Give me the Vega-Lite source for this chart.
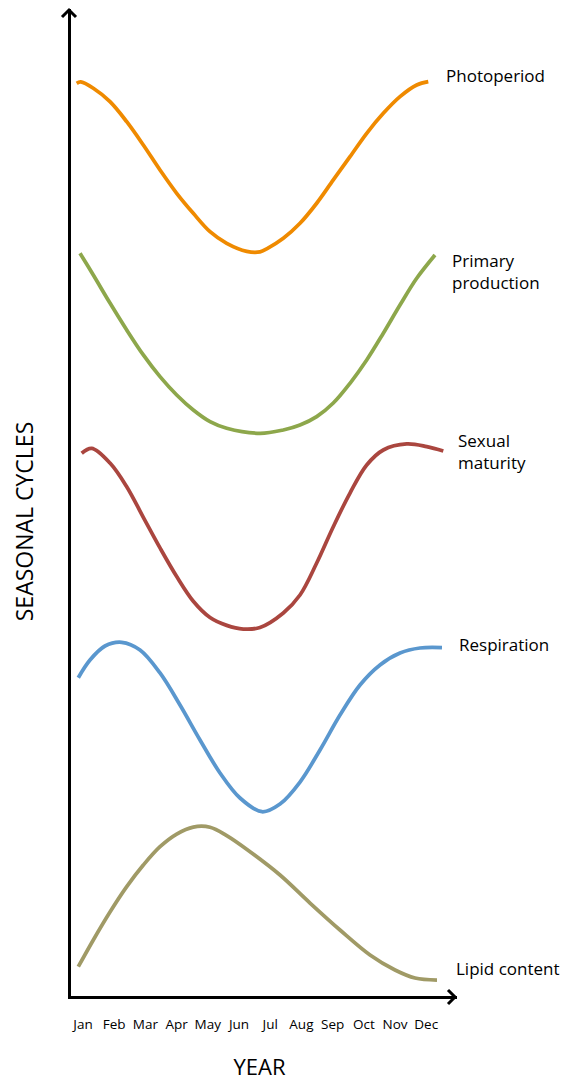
{
  "$schema": "https://vega.github.io/schema/vega-lite/v6.json",
  "width": 386,
  "height": 987,
  "autosize": "none",
  "padding": {"left": 69, "top": 10, "right": 109, "bottom": 84},
  "background": "white",
  "config": {"view": {"stroke": null}},
  "datasets": {
    "curves": [
      {"series": "Photoperiod", "m": 0.814, "v": 92.57},
      {"series": "Photoperiod", "m": 0.942, "v": 92.71},
      {"series": "Photoperiod", "m": 1.346, "v": 92.07},
      {"series": "Photoperiod", "m": 1.881, "v": 90.71},
      {"series": "Photoperiod", "m": 2.417, "v": 88.68},
      {"series": "Photoperiod", "m": 2.949, "v": 86.32},
      {"series": "Photoperiod", "m": 3.484, "v": 83.79},
      {"series": "Photoperiod", "m": 4.019, "v": 81.43},
      {"series": "Photoperiod", "m": 4.551, "v": 79.40},
      {"series": "Photoperiod", "m": 5.087, "v": 77.54},
      {"series": "Photoperiod", "m": 5.622, "v": 76.36},
      {"series": "Photoperiod", "m": 6.263, "v": 75.55},
      {"series": "Photoperiod", "m": 6.689, "v": 75.50},
      {"series": "Photoperiod", "m": 6.904, "v": 75.80},
      {"series": "Photoperiod", "m": 7.436, "v": 76.87},
      {"series": "Photoperiod", "m": 7.971, "v": 78.39},
      {"series": "Photoperiod", "m": 8.506, "v": 80.42},
      {"series": "Photoperiod", "m": 9.038, "v": 82.78},
      {"series": "Photoperiod", "m": 9.574, "v": 85.14},
      {"series": "Photoperiod", "m": 10.109, "v": 87.51},
      {"series": "Photoperiod", "m": 10.641, "v": 89.53},
      {"series": "Photoperiod", "m": 11.176, "v": 91.22},
      {"series": "Photoperiod", "m": 11.712, "v": 92.40},
      {"series": "Photoperiod", "m": 12.083, "v": 92.74},

      {"series": "Primary production", "m": 0.920, "v": 75.35},
      {"series": "Primary production", "m": 1.346, "v": 73.15},
      {"series": "Primary production", "m": 1.881, "v": 70.31},
      {"series": "Primary production", "m": 2.417, "v": 67.58},
      {"series": "Primary production", "m": 2.949, "v": 65.05},
      {"series": "Primary production", "m": 3.484, "v": 62.85},
      {"series": "Primary production", "m": 4.019, "v": 60.99},
      {"series": "Primary production", "m": 4.551, "v": 59.47},
      {"series": "Primary production", "m": 5.087, "v": 58.29},
      {"series": "Primary production", "m": 5.622, "v": 57.62},
      {"series": "Primary production", "m": 6.689, "v": 57.11},
      {"series": "Primary production", "m": 7.436, "v": 57.45},
      {"series": "Primary production", "m": 7.971, "v": 57.95},
      {"series": "Primary production", "m": 8.506, "v": 58.80},
      {"series": "Primary production", "m": 9.038, "v": 60.18},
      {"series": "Primary production", "m": 9.574, "v": 62.18},
      {"series": "Primary production", "m": 10.109, "v": 64.54},
      {"series": "Primary production", "m": 10.641, "v": 67.25},
      {"series": "Primary production", "m": 11.176, "v": 70.11},
      {"series": "Primary production", "m": 11.712, "v": 72.82},
      {"series": "Primary production", "m": 12.298, "v": 75.18},

      {"series": "Sexual maturity", "m": 0.974, "v": 55.09},
      {"series": "Sexual maturity", "m": 1.295, "v": 55.59},
      {"series": "Sexual maturity", "m": 1.881, "v": 54.10},
      {"series": "Sexual maturity", "m": 2.417, "v": 51.70},
      {"series": "Sexual maturity", "m": 2.949, "v": 48.60},
      {"series": "Sexual maturity", "m": 3.484, "v": 45.50},
      {"series": "Sexual maturity", "m": 4.019, "v": 42.60},
      {"series": "Sexual maturity", "m": 4.551, "v": 40.10},
      {"series": "Sexual maturity", "m": 5.087, "v": 38.45},
      {"series": "Sexual maturity", "m": 5.622, "v": 37.65},
      {"series": "Sexual maturity", "m": 6.154, "v": 37.28},
      {"series": "Sexual maturity", "m": 6.689, "v": 37.44},
      {"series": "Sexual maturity", "m": 7.436, "v": 38.91},
      {"series": "Sexual maturity", "m": 7.971, "v": 40.73},
      {"series": "Sexual maturity", "m": 8.506, "v": 43.97},
      {"series": "Sexual maturity", "m": 9.038, "v": 47.65},
      {"series": "Sexual maturity", "m": 9.574, "v": 51.06},
      {"series": "Sexual maturity", "m": 10.109, "v": 53.90},
      {"series": "Sexual maturity", "m": 10.641, "v": 55.42},
      {"series": "Sexual maturity", "m": 11.391, "v": 56.03},
      {"series": "Sexual maturity", "m": 12.032, "v": 55.76},
      {"series": "Sexual maturity", "m": 12.564, "v": 55.32},

      {"series": "Respiration", "m": 0.865, "v": 32.35},
      {"series": "Respiration", "m": 1.240, "v": 34.14},
      {"series": "Respiration", "m": 1.721, "v": 35.56},
      {"series": "Respiration", "m": 2.256, "v": 35.94},
      {"series": "Respiration", "m": 2.843, "v": 35.16},
      {"series": "Respiration", "m": 3.484, "v": 32.83},
      {"series": "Respiration", "m": 4.125, "v": 29.58},
      {"series": "Respiration", "m": 4.766, "v": 26.04},
      {"series": "Respiration", "m": 5.407, "v": 22.70},
      {"series": "Respiration", "m": 6.048, "v": 20.16},
      {"series": "Respiration", "m": 6.753, "v": 18.77},
      {"series": "Respiration", "m": 7.330, "v": 19.55},
      {"series": "Respiration", "m": 7.971, "v": 21.78},
      {"series": "Respiration", "m": 8.612, "v": 25.03},
      {"series": "Respiration", "m": 9.253, "v": 28.57},
      {"series": "Respiration", "m": 9.894, "v": 31.61},
      {"series": "Respiration", "m": 10.535, "v": 33.64},
      {"series": "Respiration", "m": 11.176, "v": 34.85},
      {"series": "Respiration", "m": 11.817, "v": 35.36},
      {"series": "Respiration", "m": 12.522, "v": 35.40},

      {"series": "Lipid content", "m": 0.865, "v": 3.07},
      {"series": "Lipid content", "m": 1.346, "v": 5.78},
      {"series": "Lipid content", "m": 1.881, "v": 8.61},
      {"series": "Lipid content", "m": 2.417, "v": 11.18},
      {"series": "Lipid content", "m": 2.949, "v": 13.37},
      {"series": "Lipid content", "m": 3.484, "v": 15.23},
      {"series": "Lipid content", "m": 4.019, "v": 16.51},
      {"series": "Lipid content", "m": 4.551, "v": 17.22},
      {"series": "Lipid content", "m": 5.087, "v": 17.20},
      {"series": "Lipid content", "m": 5.622, "v": 16.35},
      {"series": "Lipid content", "m": 6.369, "v": 14.72},
      {"series": "Lipid content", "m": 7.330, "v": 12.36},
      {"series": "Lipid content", "m": 8.292, "v": 9.52},
      {"series": "Lipid content", "m": 9.253, "v": 6.79},
      {"series": "Lipid content", "m": 10.215, "v": 4.26},
      {"series": "Lipid content", "m": 11.016, "v": 2.74},
      {"series": "Lipid content", "m": 11.657, "v": 1.93},
      {"series": "Lipid content", "m": 12.362, "v": 1.72}
    ],
    "labels": [
      {"label": "Photoperiod", "m": 12.651, "v": 93.21},
      {"label": "Primary|production", "m": 12.843, "v": 74.47},
      {"label": "Sexual|maturity", "m": 13.035, "v": 56.23},
      {"label": "Respiration", "m": 13.067, "v": 35.56},
      {"label": "Lipid content", "m": 12.971, "v": 2.74}
    ],
    "xend": [{"m": 12.939, "v": 0}],
    "yend": [{"m": 0.567, "v": 100}]
  },
  "encoding": {
    "x": {
      "field": "m",
      "type": "quantitative",
      "scale": {"domain": [0.567, 12.939], "nice": false, "zero": false},
      "axis": {
        "values": [1, 2, 3, 4, 5, 6, 7, 8, 9, 10, 11, 12],
        "labelExpr": "['Jan','Feb','Mar','Apr','May','Jun','Jul','Aug','Sep','Oct','Nov','Dec'][datum.value-1]",
        "ticks": false,
        "tickSize": 0,
        "grid": false,
        "domainColor": "black",
        "domainWidth": 3,
        "domainCap": "square",
        "labelFont": "Open Sans",
        "labelFontSize": 13.5,
        "labelColor": "black",
        "labelBaseline": "middle",
        "labelPadding": 27,
        "labelOverlap": false,
        "labelFlush": false,
        "title": "YEAR",
        "titleFont": "Open Sans",
        "titleFontSize": 22,
        "titleFontWeight": "normal",
        "titleColor": "black",
        "titleX": 190,
        "titleY": 70,
        "titleAlign": "center",
        "titleBaseline": "middle"
      }
    },
    "y": {
      "field": "v",
      "type": "quantitative",
      "scale": {"domain": [0, 100], "nice": false, "zero": false},
      "axis": {
        "labels": false,
        "ticks": false,
        "grid": false,
        "domainColor": "black",
        "domainWidth": 3,
        "domainCap": "square",
        "title": "SEASONAL CYCLES",
        "titleFont": "Open Sans",
        "titleFontSize": 23,
        "titleFontWeight": "normal",
        "titleColor": "black",
        "titleAngle": -90,
        "titleX": -44,
        "titleY": 511,
        "titleAlign": "center",
        "titleBaseline": "middle"
      }
    }
  },
  "layer": [
    {
      "data": {"name": "curves"},
      "mark": {"type": "line", "interpolate": "catmull-rom", "strokeWidth": 3.75, "strokeCap": "butt"},
      "encoding": {
        "color": {
          "field": "series",
          "type": "nominal",
          "scale": {
            "domain": ["Photoperiod", "Primary production", "Sexual maturity", "Respiration", "Lipid content"],
            "range": ["#EF8A00", "#8DA74B", "#AA463F", "#5A97CE", "#A09A66"]
          },
          "legend": null
        }
      }
    },
    {
      "data": {"name": "labels"},
      "mark": {"type": "text", "align": "left", "baseline": "middle", "font": "Open Sans", "fontSize": 17, "color": "black", "lineBreak": "|", "lineHeight": 22},
      "encoding": {"text": {"field": "label", "type": "nominal"}}
    },
    {
      "data": {"name": "xend"},
      "mark": {"type": "point", "shape": "M-1,-1L0,0L-1,1", "filled": false, "size": 196, "strokeWidth": 3, "color": "black", "opacity": 1, "clip": false}
    },
    {
      "data": {"name": "yend"},
      "mark": {"type": "point", "shape": "M-1,1L0,0L1,1", "filled": false, "size": 196, "strokeWidth": 3, "color": "black", "opacity": 1, "clip": false}
    }
  ]
}
